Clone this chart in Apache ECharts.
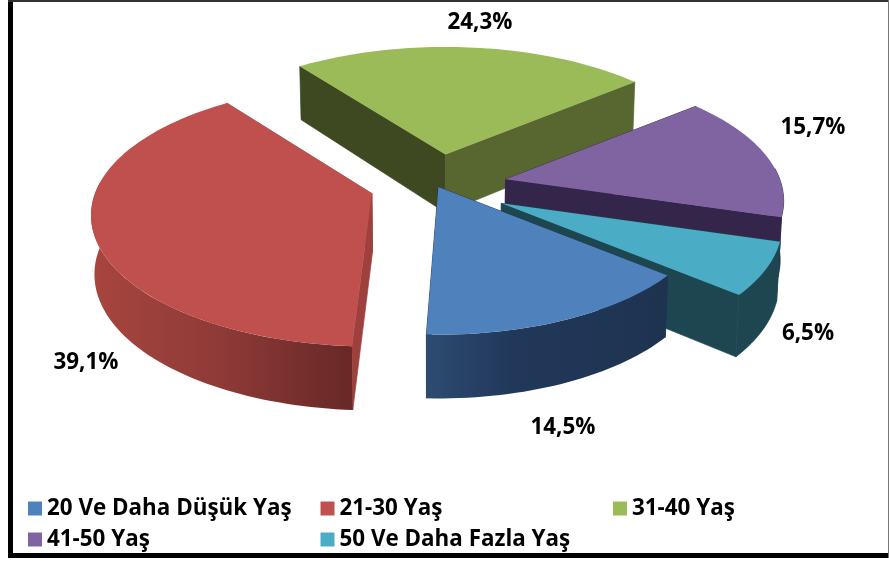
<!DOCTYPE html>
<html>
<head>
<meta charset="utf-8">
<style>html,body{margin:0;padding:0;background:#fff}#c{width:889px;height:563px}</style>
<script src="https://cdn.jsdelivr.net/npm/echarts@6/dist/echarts.min.js"></script>
</head>
<body>
<div id="c"></div>
<script>
var categories = ['20 Ve Daha Düşük Yaş', '21-30 Yaş', '31-40 Yaş', '41-50 Yaş', '50 Ve Daha Fazla Yaş'];
var values = [14.5, 39.1, 24.3, 15.7, 6.5];
var valueLabels = ['14,5%', '39,1%', '24,3%', '15,7%', '6,5%'];

var colors = ['#4f81bd', '#c0504d', '#9bbb59', '#8064a2', '#4bacc6'];
var explode = [0.03, 0.235, 0.24, 0.26, 0.27];
var sliceScale = [0.965, 1, 0.985, 0.99, 1];
var sliceNudge = [[0, -1.5], [-1, -0.5], [3, 0], [0, 1], [0.5, 2]];
var edgeNudge = [0, 1.3, 0, 0, 0];
var paintOrder = [5, 3, 1, 2, 4];
var faceColors = ['#1e3350', '#9e403d', null, '#33264a', '#1e4651'];
var wallStops = [
  [[0, '#2d4b71'], [0.35, '#21385a'], [1, '#1e3350']],
  [[0, '#a8453f'], [0.5, '#8e3a37'], [1, '#672826']],
  [[0, '#3f4921'], [1, '#3f4921']],
  [[0, '#33264a'], [1, '#33264a']],
  [[0, '#1e4651'], [1, '#1e4651']]
];
var greenFaces = ['#3f4921', '#586730'];
var labelAt = [[563, 428], [86, 363], [480, 23], [813, 128], [808, 334]];

var startAngle = 130, cx = 435, cy = 185, Rx = 277, Ry = 127.5, persp = 1 / 6, depth = 58;
var total = values.reduce(function (a, b) { return a + b; }, 0);

function rad(d) { return d * Math.PI / 180; }
function rim(a, deg) {
  var u = Math.sin(rad(deg)), v = -Math.cos(rad(deg)), s = a.scale / (1 - persp * v);
  return { x: a.x + Rx * u * s, y: a.y + Ry * v * s, v: v };
}
function drop(p) {
  return [p.x + (cx - p.x) * 0.01, p.y + depth * (1 + 0.1 * p.v)];
}
function upper(p) { return [p.x, p.y]; }
function sweepPts(a, from, to) {
  var pts = [], n = Math.max(2, Math.ceil((to - from) / 1.5));
  for (var i = 0; i <= n; i++) pts.push(rim(a, from + (to - from) * i / n));
  return pts;
}
function poly(points, fill, seal) {
  return {
    type: 'polygon', shape: { points: points },
    style: { fill: fill, stroke: seal ? fill : null, lineWidth: seal ? 0.7 : 0 }
  };
}

function renderSlice(params, api) {
  var i = params.seriesIndex;
  var before = values.slice(0, i).reduce(function (a, b) { return a + b; }, 0);
  var from = startAngle + before / total * 360;
  var to = from + api.value(0) / total * 360;
  var mid = (from + to) / 2;
  from += edgeNudge[i];
  if (i === 1) to += 0.8;
  if (from >= 360) { from -= 360; to -= 360; }
  var apex = {
    x: cx + explode[i] * Rx * Math.sin(rad(mid)) + sliceNudge[i][0],
    y: cy - explode[i] * Ry * Math.cos(rad(mid)) + sliceNudge[i][1],
    v: 0,
    scale: sliceScale[i]
  };
  var a = upper(apex), ab = drop(apex);
  var p0 = rim(apex, from), p1 = rim(apex, to);
  var f0 = faceColors[i] || greenFaces[0], f1 = faceColors[i] || greenFaces[1];
  var children = [
    poly([a, upper(p0), drop(p0), ab], f0, true),
    poly([a, upper(p1), drop(p1), ab], f1, true)
  ];
  var wFrom = Math.max(from, 85), wTo = Math.min(to, 275);
  if (wTo > wFrom) {
    var arc = sweepPts(apex, wFrom, wTo);
    var wall = arc.map(function (p) { return upper(p); }).concat(arc.slice().reverse().map(function (p) { return drop(p); }));
    var stops = wallStops[i].map(function (s) { return { offset: s[0], color: s[1] }; });
    var flat = wallStops[i][0][1] === wallStops[i][1][1];
    children.push(flat
      ? poly(wall, wallStops[i][0][1], true)
      : poly(wall, new echarts.graphic.LinearGradient(0, 0, 1, 0, stops), false));
  }
  var topPts = [a].concat(sweepPts(apex, from, to).map(function (p) { return upper(p); }));
  children.push(poly(topPts, colors[i], false));
  children.push({
    type: 'text',
    style: {
      text: valueLabels[i], x: labelAt[i][0], y: labelAt[i][1],
      align: 'center', verticalAlign: 'middle',
      font: 'bold 22.4px "Open Sans"', fill: '#000'
    }
  });
  return { type: 'group', children: children };
}

var chart = echarts.init(document.getElementById('c'), null, { renderer: 'canvas' });
chart.setOption({
  animation: false,
  backgroundColor: '#fff',
  legend: {
    left: 28, top: 493, width: 885, itemGap: 0, padding: 0,
    itemWidth: 14, itemHeight: 14, icon: 'rect',
    data: categories,
    selectedMode: false,
    textStyle: { width: 273.5, height: 31, lineHeight: 31, color: '#000', fontFamily: 'Open Sans', fontWeight: 'bold', fontSize: 22.4 }
  },
  graphic: [
    { type: 'rect', shape: { x: 8, y: 0, width: 5, height: 558 }, style: { fill: '#000' }, silent: true },
    { type: 'rect', shape: { x: 8, y: 553, width: 881, height: 5 }, style: { fill: '#000' }, silent: true },
    { type: 'rect', shape: { x: 8, y: 0, width: 881, height: 2 }, style: { fill: '#333' }, silent: true },
    { type: 'rect', shape: { x: 888, y: 0, width: 1, height: 558 }, style: { fill: '#777' }, silent: true }
  ],
  series: categories.map(function (name, i) {
    return {
      type: 'custom', name: name, coordinateSystem: 'none', silent: true,
      z: paintOrder[i], itemStyle: { color: colors[i] },
      data: [values[i]], renderItem: renderSlice
    };
  })
});
</script>
</body>
</html>
